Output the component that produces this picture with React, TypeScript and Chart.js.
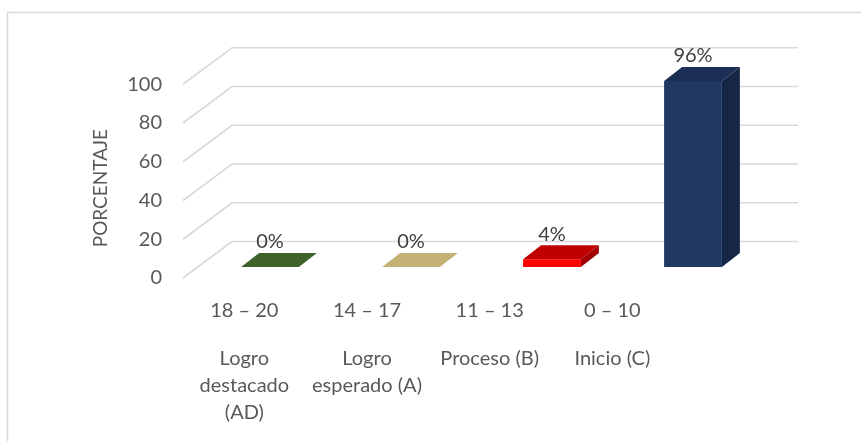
import React, { useEffect, useRef } from 'react';
import { Chart, registerables } from 'chart.js';

Chart.register(...registerables);

// ---- data ----
const ranges = ['18 – 20', '14 – 17', '11 – 13', '0 – 10'];
const levels = [['Logro', 'destacado', '(AD)'], ['Logro', 'esperado (A)'], ['Proceso (B)'], ['Inicio (C)']];
const percentages = [0, 0, 4, 96];
const yMin = 0;
const yMax = 100;
const yStep = 20;
const axisTitle = 'PORCENTAJE';

// ---- styles ----
const frontColors = ['#3f6229', '#c5b075', '#ff0000', '#203864'];
const topColors = ['#3f6229', '#c5b075', '#c00000', '#1b2f56'];
const sideColors = ['#2f4a1f', '#a8955f', '#a00000', '#162745'];
const FONT = "Lato, 'Noto Sans', sans-serif";
const TEXT = '#595959';
const LABEL_TEXT = '#404040';
const GRID = '#d9d9d9';

// 3D geometry (pixels)
const BAR_DX = 18;
const BAR_DY = -14;
const FLOOR_FRONT_DX = -16.5;
const FLOOR_FRONT_DY = 11;
const WALL_DX = 32.5;
const WALL_DY = -25.5;
const LABEL_SPAN = 0.87;

const threeD = {
  id: 'threeD',
  beforeDraw(chart: any) {
    const { ctx } = chart;
    ctx.save();
    ctx.strokeStyle = GRID;
    ctx.lineWidth = 1.5;
    ctx.beginPath();
    ctx.moveTo(7.5, chart.height);
    ctx.lineTo(7.5, 12.5);
    ctx.lineTo(chart.width, 12.5);
    ctx.stroke();
    ctx.restore();
  },
  beforeDatasetsDraw(chart: any) {
    const { ctx, chartArea } = chart;
    const y = chart.scales.y;
    ctx.save();
    ctx.strokeStyle = GRID;
    ctx.lineWidth = 1.6;
    y.ticks.forEach((t: any) => {
      const py = y.getPixelForValue(t.value);
      ctx.beginPath();
      ctx.moveTo(chartArea.left + FLOOR_FRONT_DX, py + FLOOR_FRONT_DY);
      ctx.lineTo(chartArea.left + WALL_DX, py + WALL_DY);
      ctx.lineTo(chartArea.right + WALL_DX + 2, py + WALL_DY);
      ctx.stroke();
    });
    ctx.restore();
  },
  afterDatasetsDraw(chart: any) {
    const { ctx } = chart;
    const meta = chart.getDatasetMeta(0);
    ctx.save();
    meta.data.forEach((bar: any, i: number) => {
      const { x, y, base, width } = bar.getProps(['x', 'y', 'base', 'width'], true);
      const x0 = x - width / 2;
      const x1 = x + width / 2;
      // side face
      if (base - y > 0.5) {
        ctx.fillStyle = sideColors[i];
        ctx.beginPath();
        ctx.moveTo(x1, y);
        ctx.lineTo(x1 + BAR_DX, y + BAR_DY);
        ctx.lineTo(x1 + BAR_DX, base + BAR_DY);
        ctx.lineTo(x1, base);
        ctx.closePath();
        ctx.fill();
      }
      // top face
      ctx.fillStyle = topColors[i];
      ctx.beginPath();
      ctx.moveTo(x0, y);
      ctx.lineTo(x1, y);
      ctx.lineTo(x1 + BAR_DX, y + BAR_DY);
      ctx.lineTo(x0 + BAR_DX, y + BAR_DY);
      ctx.closePath();
      ctx.fill();
      // data label
      ctx.fillStyle = LABEL_TEXT;
      ctx.font = `20px ${FONT}`;
      ctx.textAlign = 'center';
      ctx.textBaseline = 'middle';
      ctx.fillText(`${percentages[i]}%`, x, y + BAR_DY - 11);
    });
    ctx.restore();
  },
  afterDraw(chart: any) {
    const { ctx, chartArea } = chart;
    ctx.save();
    ctx.fillStyle = TEXT;
    ctx.font = `20px ${FONT}`;
    ctx.textAlign = 'center';
    ctx.textBaseline = 'middle';
    const frontLeft = chartArea.left + FLOOR_FRONT_DX;
    const slot = ((chartArea.right - chartArea.left) * LABEL_SPAN) / ranges.length;
    const bottom = chart.scales.y.getPixelForValue(yMin);
    ranges.forEach((r, i) => {
      const cx = frontLeft + (i + 0.5) * slot;
      ctx.fillText(r, cx, bottom + 44);
      levels[i].forEach((line, k) => {
        ctx.fillText(line, cx, bottom + 92 + k * 27);
      });
    });
    // axis title
    ctx.font = `19px ${FONT}`;
    ctx.translate(101, (chartArea.top + bottom) / 2 + 18);
    ctx.rotate(-Math.PI / 2);
    ctx.fillText(axisTitle, 0, 0);
    ctx.restore();
  },
};

export default function App() {
  const ref = useRef<HTMLCanvasElement | null>(null);
  useEffect(() => {
    document.body.style.margin = '0';
    const canvas = ref.current!;
    const chart = new Chart(canvas, {
      type: 'bar',
      data: {
        labels: ranges,
        datasets: [
          {
            data: percentages,
            backgroundColor: frontColors,
            borderWidth: 0,
            barPercentage: 0.41,
            categoryPercentage: 1,
          },
        ],
      },
      options: {
        responsive: false,
        animation: false,
        devicePixelRatio: 1,
        layout: { padding: { top: 73.25, bottom: 174, left: 0, right: 97.5 } },
        plugins: { legend: { display: false }, tooltip: { enabled: false }, title: { display: false } },
        scales: {
          x: { display: false },
          y: {
            min: yMin,
            max: yMax,
            afterFit: (scale: any) => {
              scale.width = 199.5;
            },
            grid: { display: false, drawTicks: false },
            border: { display: false },
            ticks: {
              stepSize: yStep,
              padding: 37.5,
              labelOffset: 11,
              color: TEXT,
              font: { family: FONT, size: 20 },
            },
          },
        },
      },
      plugins: [threeD],
    });
    return () => chart.destroy();
  }, []);
  return (
    <div style={{ width: 861, height: 441, background: '#fff' }}>
      <canvas ref={ref} width={861} height={441} style={{ display: 'block' }} />
    </div>
  );
}
